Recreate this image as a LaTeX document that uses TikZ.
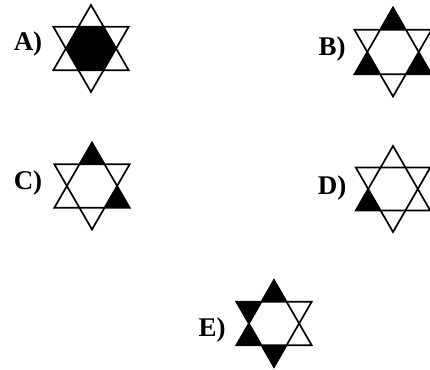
\documentclass[tikz,border=0pt]{standalone}
\usepackage{fontspec}
\setmainfont{Liberation Serif}
\newcommand\mystar[5]{%
  \begin{scope}[shift={(#1,#2)}]
    \pgfmathsetmacro\rin{#3/1.7320508}
    \ifx\relax#5\relax\else
      \fill (0:\rin) -- (60:\rin) -- (120:\rin) -- (180:\rin) -- (240:\rin) -- (300:\rin) -- cycle;
    \fi
    \foreach \a in {#4} {
      \fill (\a:#3) -- (\a+30:\rin) -- (\a-30:\rin) -- cycle;
    }
    \draw[starline] (90:#3) -- (210:#3) -- (330:#3) -- cycle;
    \draw[starline] (270:#3) -- (30:#3) -- (150:#3) -- cycle;
  \end{scope}}
\begin{document}
\begin{tikzpicture}[x=1pt,y=1pt,line join=miter,
  starline/.style={line width=1.7pt},
  lbl/.style={font=\bfseries\fontsize{27}{27}\selectfont,inner sep=0pt}]
\useasboundingbox (0,0) rectangle (430,-369);
\mystar{91}{-48.5}{43.5}{}{x}
\mystar{393}{-52}{44.5}{90,210,330}{}
\mystar{92}{-186}{43.5}{90,330}{}
\mystar{393}{-189}{43}{210}{}
\mystar{274}{-323.5}{43.5}{90,270,150,210}{}
\node[lbl] (la) at (28,-44) {A)};
\node[lbl] (lb) at (332,-49) {B)};
\node[lbl] (lc) at (28,-183) {C)};
\node[lbl] (ld) at (332,-188) {D)};
\node[lbl] (le) at (212,-330) {E)};
\end{tikzpicture}
\end{document}
